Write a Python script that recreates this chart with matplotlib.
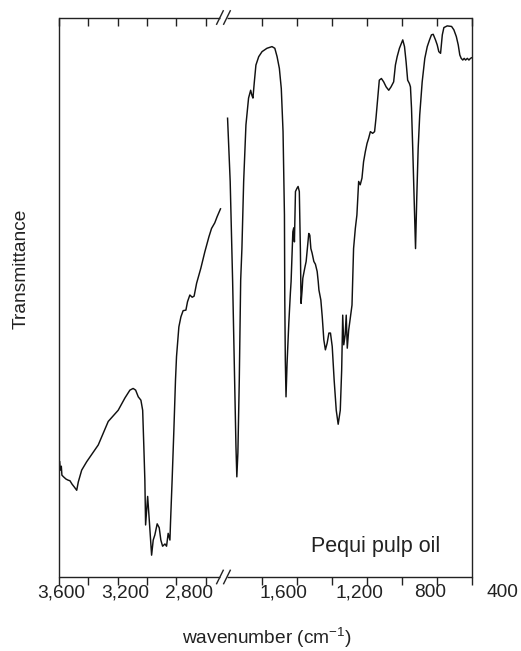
import numpy as np
import matplotlib
matplotlib.use("Agg")
import matplotlib.pyplot as plt

plt.rcParams['font.family'] = ['Liberation Sans', 'DejaVu Sans']
plt.rcParams['mathtext.default'] = 'regular'

# IR spectrum, high wavenumber part (cm-1) and transmittance (%)
wn_left = [3595, 3591, 3584, 3580, 3569, 3552, 3537, 3525, 3511, 3496,
           3479, 3468, 3445, 3411, 3332, 3264, 3196, 3150, 3116, 3094,
           3077, 3059, 3041, 3029, 3021, 3014, 3009, 2995, 2984, 2968,
           2957, 2946, 2930, 2916, 2905, 2893, 2877, 2866, 2855, 2843,
           2839, 2828, 2816, 2805, 2798, 2782, 2768, 2753, 2734, 2723,
           2707, 2691, 2678, 2661, 2632, 2605, 2577, 2559, 2537, 2521, 2498]
t_left = [20.6, 19.1, 19.8, 18.2, 17.9, 17.5, 17.3, 17.2, 16.6, 16.1,
          15.5, 17.0, 19.1, 20.6, 23.6, 27.8, 29.8, 32.0, 33.4, 33.7,
          33.4, 32.2, 31.6, 29.8, 23.3, 17.3, 9.3, 14.4, 10.2, 3.9,
          6.6, 7.5, 9.5, 8.8, 6.6, 5.5, 5.9, 5.5, 7.8, 6.6,
          9.7, 17.3, 26.3, 35.2, 39.4, 44.7, 46.5, 47.6, 47.7, 49.2,
          50.4, 50.0, 50.2, 52.5, 55.2, 58.1, 60.8, 62.3, 63.3, 64.4, 65.8]

# fingerprint part
wn_right = [1795, 1780, 1766, 1755, 1747, 1742, 1736, 1728, 1720, 1713,
            1703, 1690, 1675, 1663, 1656, 1650, 1642, 1633, 1617, 1598,
            1570, 1541, 1525, 1512, 1499, 1488, 1478, 1470, 1468, 1465,
            1461, 1455, 1445, 1436, 1432, 1422, 1417, 1413, 1407, 1398,
            1392, 1385, 1379, 1375, 1369, 1365, 1354, 1346, 1339, 1331,
            1325, 1319, 1312, 1302, 1293, 1283, 1277, 1273, 1262, 1254,
            1245, 1236, 1226, 1216, 1207, 1197, 1186, 1174, 1163, 1151,
            1143, 1137, 1131, 1123, 1117, 1111, 1103, 1084, 1075, 1065,
            1056, 1046, 1037, 1027, 1018, 1008, 998, 989, 979, 966,
            955, 947, 937, 928, 916, 903, 889, 874, 861, 846,
            836, 826, 813, 802, 794, 784, 775, 766, 756, 750,
            744, 737, 729, 721, 714, 706, 697, 683, 668, 654,
            641, 630, 620, 607, 597, 588, 578, 568, 559, 540,
            515, 502, 488, 477, 468, 460, 451, 443, 435, 425,
            416, 407, 401]
t_right = [82.0, 70.7, 52.8, 35.2, 23.3, 17.9, 22.2, 35.2, 53.1, 58.7,
           70.7, 80.8, 85.6, 87.0, 86.1, 85.6, 88.5, 91.5, 93.0, 93.9,
           94.5, 94.8, 94.5, 93.0, 90.9, 87.3, 79.6, 64.7, 49.5, 38.8,
           32.2, 38.2, 45.4, 50.8, 52.8, 61.7, 62.4, 59.9, 68.9, 69.5,
           69.8, 68.9, 58.7, 48.9, 51.3, 53.4, 55.2, 56.4, 58.7, 61.4,
           61.1, 58.7, 57.9, 56.4, 55.9, 54.6, 52.8, 51.3, 49.5, 46.5,
           42.4, 40.6, 41.8, 43.6, 43.6, 41.2, 35.2, 29.8, 27.3, 29.8,
           37.0, 46.8, 41.5, 43.3, 46.8, 40.9, 44.1, 48.6, 58.7, 62.3,
           64.7, 70.7, 70.1, 71.3, 74.2, 76.0, 77.5, 78.4, 79.6, 79.3,
           79.6, 82.0, 85.6, 88.8, 89.1, 88.5, 87.6, 87.0, 87.6, 88.5,
           91.5, 93.0, 94.5, 95.4, 96.0, 94.8, 92.1, 88.8, 88.2, 87.6,
           83.8, 76.6, 67.7, 58.7, 67.7, 76.6, 82.6, 88.5, 92.7, 94.8,
           96.0, 96.9, 97.0, 96.0, 95.1, 93.9, 93.6, 96.9, 98.2, 98.5,
           98.4, 97.8, 96.6, 95.1, 93.3, 92.7, 92.4, 92.7, 92.4, 92.7,
           92.4, 92.7, 92.8]

tick_wn = [3600, 3400, 3200, 3000, 2800, 2600,
           1600, 1400, 1200, 1000, 800, 600, 400]
label_text = ['3,600', '3,200', '2,800', '1,600', '1,200', '800', '400']
label_pos = [0.005, 0.160, 0.315, 0.544, 0.727, 0.900, 1.075]

# broken axis: 3600-2482 on the left part, 1822-400 on the right part
brk = 0.397


def to_u(w):
    w = np.asarray(w, float)
    return np.where(w > 2000,
                    (3600 - w) / (3600 - 2482) * brk,
                    brk + (1822 - w) / (1822 - 400) * (1 - brk))


fig = plt.figure(figsize=(5.21, 6.51), dpi=100)
ax = fig.add_axes([0.1132, 0.1137, 0.7922, 0.8594])

ax.plot(to_u(wn_left), t_left, color='#111111', lw=1.05)
ax.plot(to_u(wn_right), t_right, color='#111111', lw=1.05)

ax.set_xlim(0, 1)
ax.set_ylim(0, 100)
ax.set_yticks([])

# ticks: outward at the bottom, inward at the top
ax.set_xticks(to_u(tick_wn))
ax.set_xticklabels([])
ax.tick_params(axis='x', direction='out', length=6, width=1.0, color='#222222')
top = ax.secondary_xaxis('top')
top.set_xticks(to_u(tick_wn))
top.set_xticklabels([])
top.tick_params(direction='in', length=6, width=1.0, color='#222222')
top.spines['top'].set_visible(False)

for s in ax.spines.values():
    s.set_linewidth(1.0)
    s.set_color('#222222')
ax.spines['top'].set_visible(False)
ax.spines['bottom'].set_visible(False)

# spines with a gap and // marks
g0, g1 = 0.390, 0.407
for yy in (0, 1):
    ax.plot([0, g0], [yy, yy], transform=ax.transAxes, color='#222222',
            lw=1.0, clip_on=False, solid_capstyle='butt')
    ax.plot([g1, 1], [yy, yy], transform=ax.transAxes, color='#222222',
            lw=1.0, clip_on=False, solid_capstyle='butt')
    for gx in (g0, g1):
        ax.plot([gx - 0.008, gx + 0.008], [yy - 0.012, yy + 0.012],
                transform=ax.transAxes, color='#222222', lw=1.0, clip_on=False)

for lab, pos in zip(label_text, label_pos):
    ax.text(pos, -0.0286, lab, transform=ax.transAxes, ha='center',
            va='center', fontsize=13.8, color='#222222', clip_on=False)

fig.text(0.513, 0.020, 'wavenumber (cm$^{-1}$)', ha='center', va='center',
         fontsize=13.8, color='#222222')
fig.text(0.040, 0.587, 'Transmittance', rotation=90, ha='center',
         va='center', fontsize=13.8, color='#222222')
ax.text(0.766, 0.055, 'Pequi pulp oil', transform=ax.transAxes,
        ha='center', va='center', fontsize=15.5, color='#222222')

fig.savefig('out.png', dpi=100)
